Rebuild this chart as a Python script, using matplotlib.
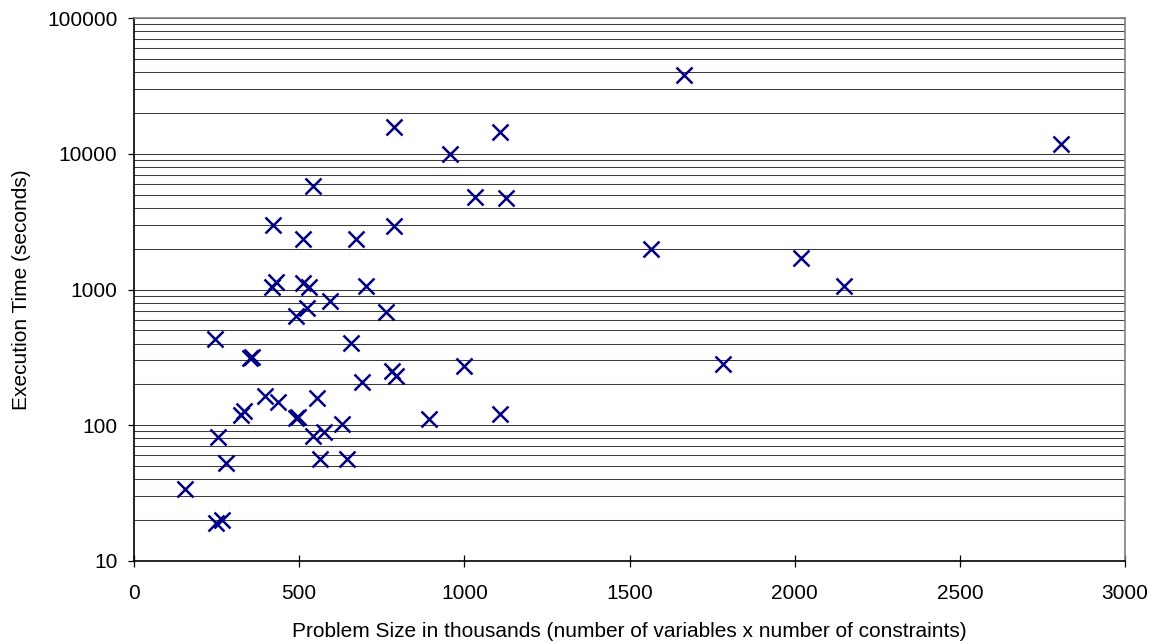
import matplotlib
matplotlib.use('Agg')
import matplotlib.pyplot as plt
from matplotlib.ticker import LogLocator, FixedLocator, NullFormatter

# problem size (thousands) and execution time (seconds)
problem_size = [1665, 2806, 788, 956, 1108, 541, 1032, 1125, 422, 512, 672, 788,
                1565, 2019, 2150, 430, 417, 512, 531, 701, 593, 523, 490, 763,
                246, 656, 351, 358, 1000, 1783, 780, 792, 691, 396, 435, 554,
                333, 323, 490, 497, 1108, 892, 629, 542, 576, 255, 563, 645,
                278, 155, 248, 266]
exec_time = [38000, 11700, 15660, 9960, 14390, 5780, 4830, 4700, 2985, 2355, 2343, 2951,
             1978, 1698, 1067, 1141, 1038, 1122, 1050, 1067, 819, 735, 638, 687,
             432, 402, 311, 320, 275, 283, 251, 232, 209, 165, 149, 159,
             128, 119, 113, 115, 122, 112, 102, 83, 89, 82, 56, 56,
             53, 34, 19.2, 20.0]

x_ticks = [0, 500, 1000, 1500, 2000, 2500, 3000]
y_ticks = [10, 100, 1000, 10000, 100000]
y_tick_labels = ['10', '100', '1000', '10000', '100000']


def make_plot():
    plt.rcParams['font.family'] = ['Liberation Sans', 'DejaVu Sans']
    plt.rcParams['font.size'] = 15
    fig = plt.figure(figsize=(11.53, 6.43), dpi=100)
    ax = fig.add_axes([134/1153, 1-561/643, 991/1153, 543/643])

    ax.set_yscale('log')
    ax.set_xlim(0, 3000)
    ax.set_ylim(10, 100000)

    ax.yaxis.set_major_locator(FixedLocator(y_ticks))
    ax.set_yticklabels(y_tick_labels)
    ax.yaxis.set_minor_locator(LogLocator(base=10, subs=range(2, 10)))
    ax.yaxis.set_minor_formatter(NullFormatter())
    ax.set_xticks(x_ticks)
    ax.set_xticklabels([str(t) for t in x_ticks])

    ax.yaxis.grid(True, which='both', color='#3a3a3a', linewidth=0.75)
    ax.set_axisbelow(True)

    ax.tick_params(axis='y', which='major', direction='out', length=4.5, width=0.9, pad=7.5)
    ax.tick_params(axis='y', which='minor', length=0)
    ax.tick_params(axis='x', direction='inout', length=8.5, width=0.9, pad=12)

    for side in ['top', 'right']:
        ax.spines[side].set_color('#808080')
        ax.spines[side].set_linewidth(1.2)
    for side in ['left', 'bottom']:
        ax.spines[side].set_color('black')
        ax.spines[side].set_linewidth(1.2)

    ax.plot(problem_size, exec_time, linestyle='none', marker='x', color='#000080',
            markersize=12, markeredgewidth=1.8)

    ax.set_xlabel('Problem Size in thousands (number of variables x number of constraints)')
    ax.set_ylabel('Execution Time (seconds)')
    ax.xaxis.set_label_coords(0.5, -0.113)
    ax.yaxis.set_label_coords(-0.104, 0.5)

    fig.savefig('out.png', dpi=100)


make_plot()
